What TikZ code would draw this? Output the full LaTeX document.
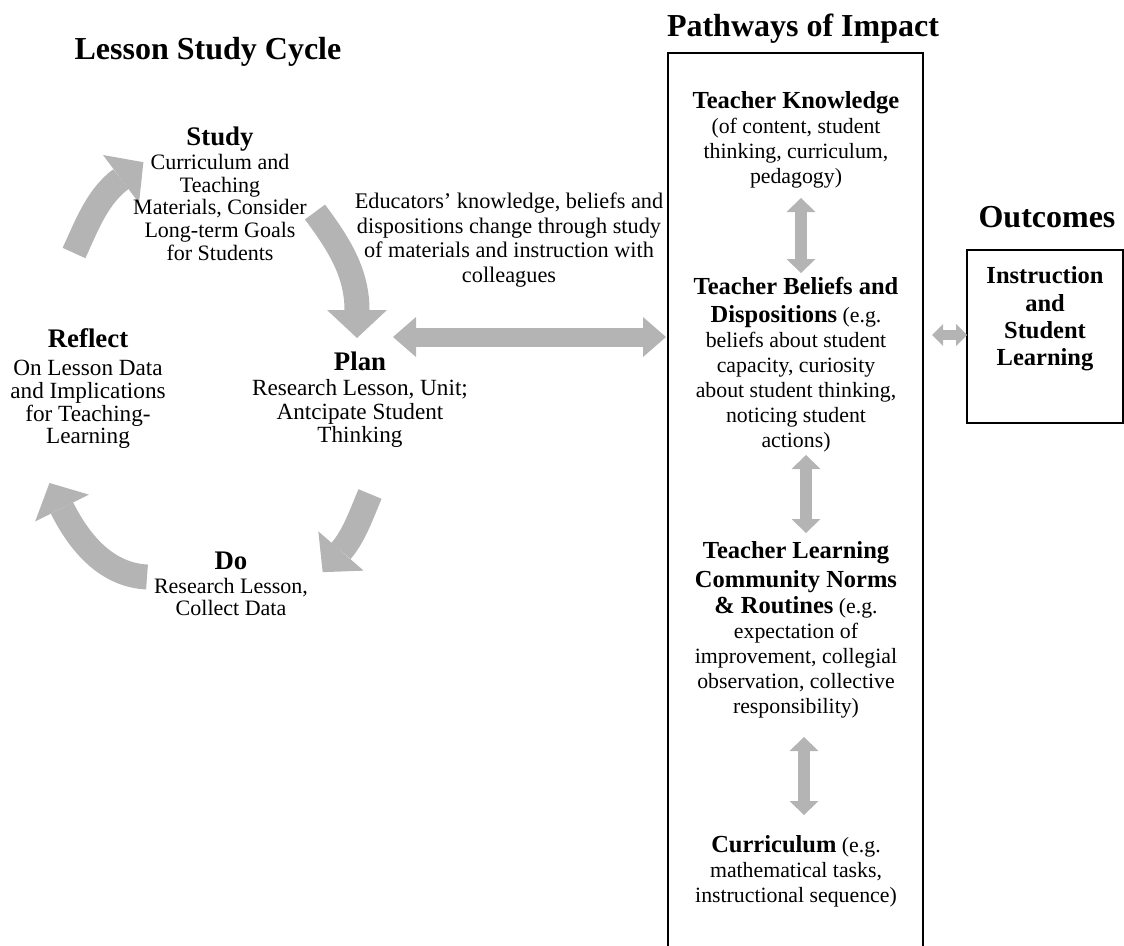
\documentclass[tikz,border=0pt]{standalone}
\usepackage{fontspec}
\setmainfont{Liberation Serif}
\usetikzlibrary{arrows.meta}
\definecolor{flowgray}{RGB}{180,180,180}
\newcommand\stagehead{\fontsize{26.8}{28}\selectfont\bfseries}
\newcommand\pathhead{\fontsize{24.5}{27}\selectfont\bfseries}

\begin{document}
\begin{tikzpicture}[x=1pt,y=-1pt,
  every node/.style={inner sep=0pt, outer sep=0pt},
  title/.style={font=\fontsize{32}{36}\selectfont\bfseries, anchor=north},
  stage/.style={align=center, anchor=north},
  pathtext/.style={align=center, anchor=north, font=\fontsize{21.8}{25}\selectfont},
  frame/.style={draw, line width=1.3pt},
  cyclearrow/.style={draw=flowgray, line width=25pt, shorten >=-28pt,
    -{Triangle[width=60pt,length=28pt,line width=0pt]}},
  bigdouble/.style={draw=flowgray, line width=19pt,
    {Triangle[width=40pt,length=23pt,line width=0pt]}-{Triangle[width=40pt,length=23pt,line width=0pt]}},
  vlink/.style={draw=flowgray, line width=12.5pt,
    {Triangle[width=29pt,length=14pt,line width=0pt]}-{Triangle[width=29pt,length=14pt,line width=0pt]}},
  smalldouble/.style={draw=flowgray, line width=10pt,
    {Triangle[width=22pt,length=11pt,line width=0pt]}-{Triangle[width=22pt,length=11pt,line width=0pt]}}
]
\useasboundingbox (0,0) rectangle (1124,945);

% titles
\node[title] (cycletitle) at (208,37.4) {Lesson Study Cycle};
\node[title] (pathtitle) at (803,13.9) {Pathways of Impact};
\node[title] (outtitle) at (1047,206) {Outcomes};

% lesson study cycle: arrows
\coordinate (c1s) at (74,253);    \coordinate (c1e) at (121,179);
\coordinate (c2s) at (315,212);   \coordinate (c2e) at (357,310);
\coordinate (c3s) at (370,494);   \coordinate (c3e) at (341,551);
\coordinate (c4s) at (147,577);   \coordinate (c4e) at (62,508);
\draw[cyclearrow] (c1s) .. controls (87,225) and (97,197) .. (c1e);
\draw[cyclearrow] (c2s) .. controls (338,243) and (357,272) .. (c2e);
\draw[cyclearrow] (c3s) .. controls (362,513) and (354,536) .. (c3e);
\draw[cyclearrow] (c4s) .. controls (107,575) and (80,544) .. (c4e);

% lesson study cycle: stages
\node[stage, font=\fontsize{22}{22.8}\selectfont] (study) at (220,127)
  {{\stagehead Study}\\[1pt] Curriculum and\\ Teaching\\ Materials, Consider\\ Long-term Goals\\ for Students};
\node[stage, font=\fontsize{23.2}{22.7}\selectfont] (reflect) at (88,328.8)
  {{\stagehead Reflect}\\[5.3pt] On Lesson Data\\ and Implications\\ for Teaching-\\ Learning};
\node[stage, font=\fontsize{23.2}{23.5}\selectfont] (plan) at (360,352)
  {{\stagehead Plan}\\[1.5pt] Research Lesson, Unit;\\ Antcipate Student\\ Thinking};
\node[stage, font=\fontsize{22}{22.5}\selectfont] (do) at (231,552)
  {{\stagehead Do}\\[1pt] Research Lesson,\\ Collect Data};

% link between the cycle and the pathways
\node[stage, font=\fontsize{22.3}{24.6}\selectfont] (educators) at (509,193)
  {Educators’ knowledge, beliefs and\\ dispositions change through study\\ of materials and instruction with\\ colleagues};

% pathways of impact
\node[frame, minimum width=255pt, minimum height=920pt, anchor=north west] (pathbox) at (668,53) {};
\node[pathtext] (knowledge) at (796,91.3)
  {{\pathhead Teacher Knowledge}\\ (of content, student\\ thinking, curriculum,\\ pedagogy)};
\node[pathtext] (beliefs) at (796,277.3)
  {{\pathhead Teacher Beliefs and}\\[3pt] {\pathhead Dispositions} (e.g.\\ beliefs about student\\ capacity, curiosity\\ about student thinking,\\ noticing student\\ actions)};
\node[pathtext] (norms) at (796,541.3)
  {{\pathhead Teacher Learning}\\[4pt] {\pathhead Community Norms}\\[1pt] {\pathhead \& Routines} (e.g.\\ expectation of\\ improvement, collegial\\ observation, collective\\ responsibility)};
\node[pathtext] (curriculum) at (796,835.3)
  {{\pathhead Curriculum} (e.g.\\ mathematical tasks,\\ instructional sequence)};

% outcomes
\node[frame, minimum width=156pt, minimum height=173pt, anchor=north west] (outbox) at (967,250) {};
\node[align=center, anchor=north, font=\fontsize{24.5}{27.3}\selectfont\bfseries] (outtext) at (1045,266.8)
  {Instruction\\ and\\ Student\\ Learning};

% connectors
\coordinate (planlink) at (393,337);
\draw[bigdouble, shorten >=2pt] (planlink) -- (planlink -| pathbox.west);
\coordinate (outlink) at (932,335);
\draw[smalldouble] (outlink) -- (outlink -| outbox.west);
\coordinate (k1) at (801,198); \coordinate (k2) at (801,273);
\coordinate (k3) at (806,455); \coordinate (k4) at (806,533);
\coordinate (k5) at (804,737); \coordinate (k6) at (804,815);
\draw[vlink] (k1) -- (k2);
\draw[vlink] (k3) -- (k4);
\draw[vlink] (k5) -- (k6);
\end{tikzpicture}
\end{document}
